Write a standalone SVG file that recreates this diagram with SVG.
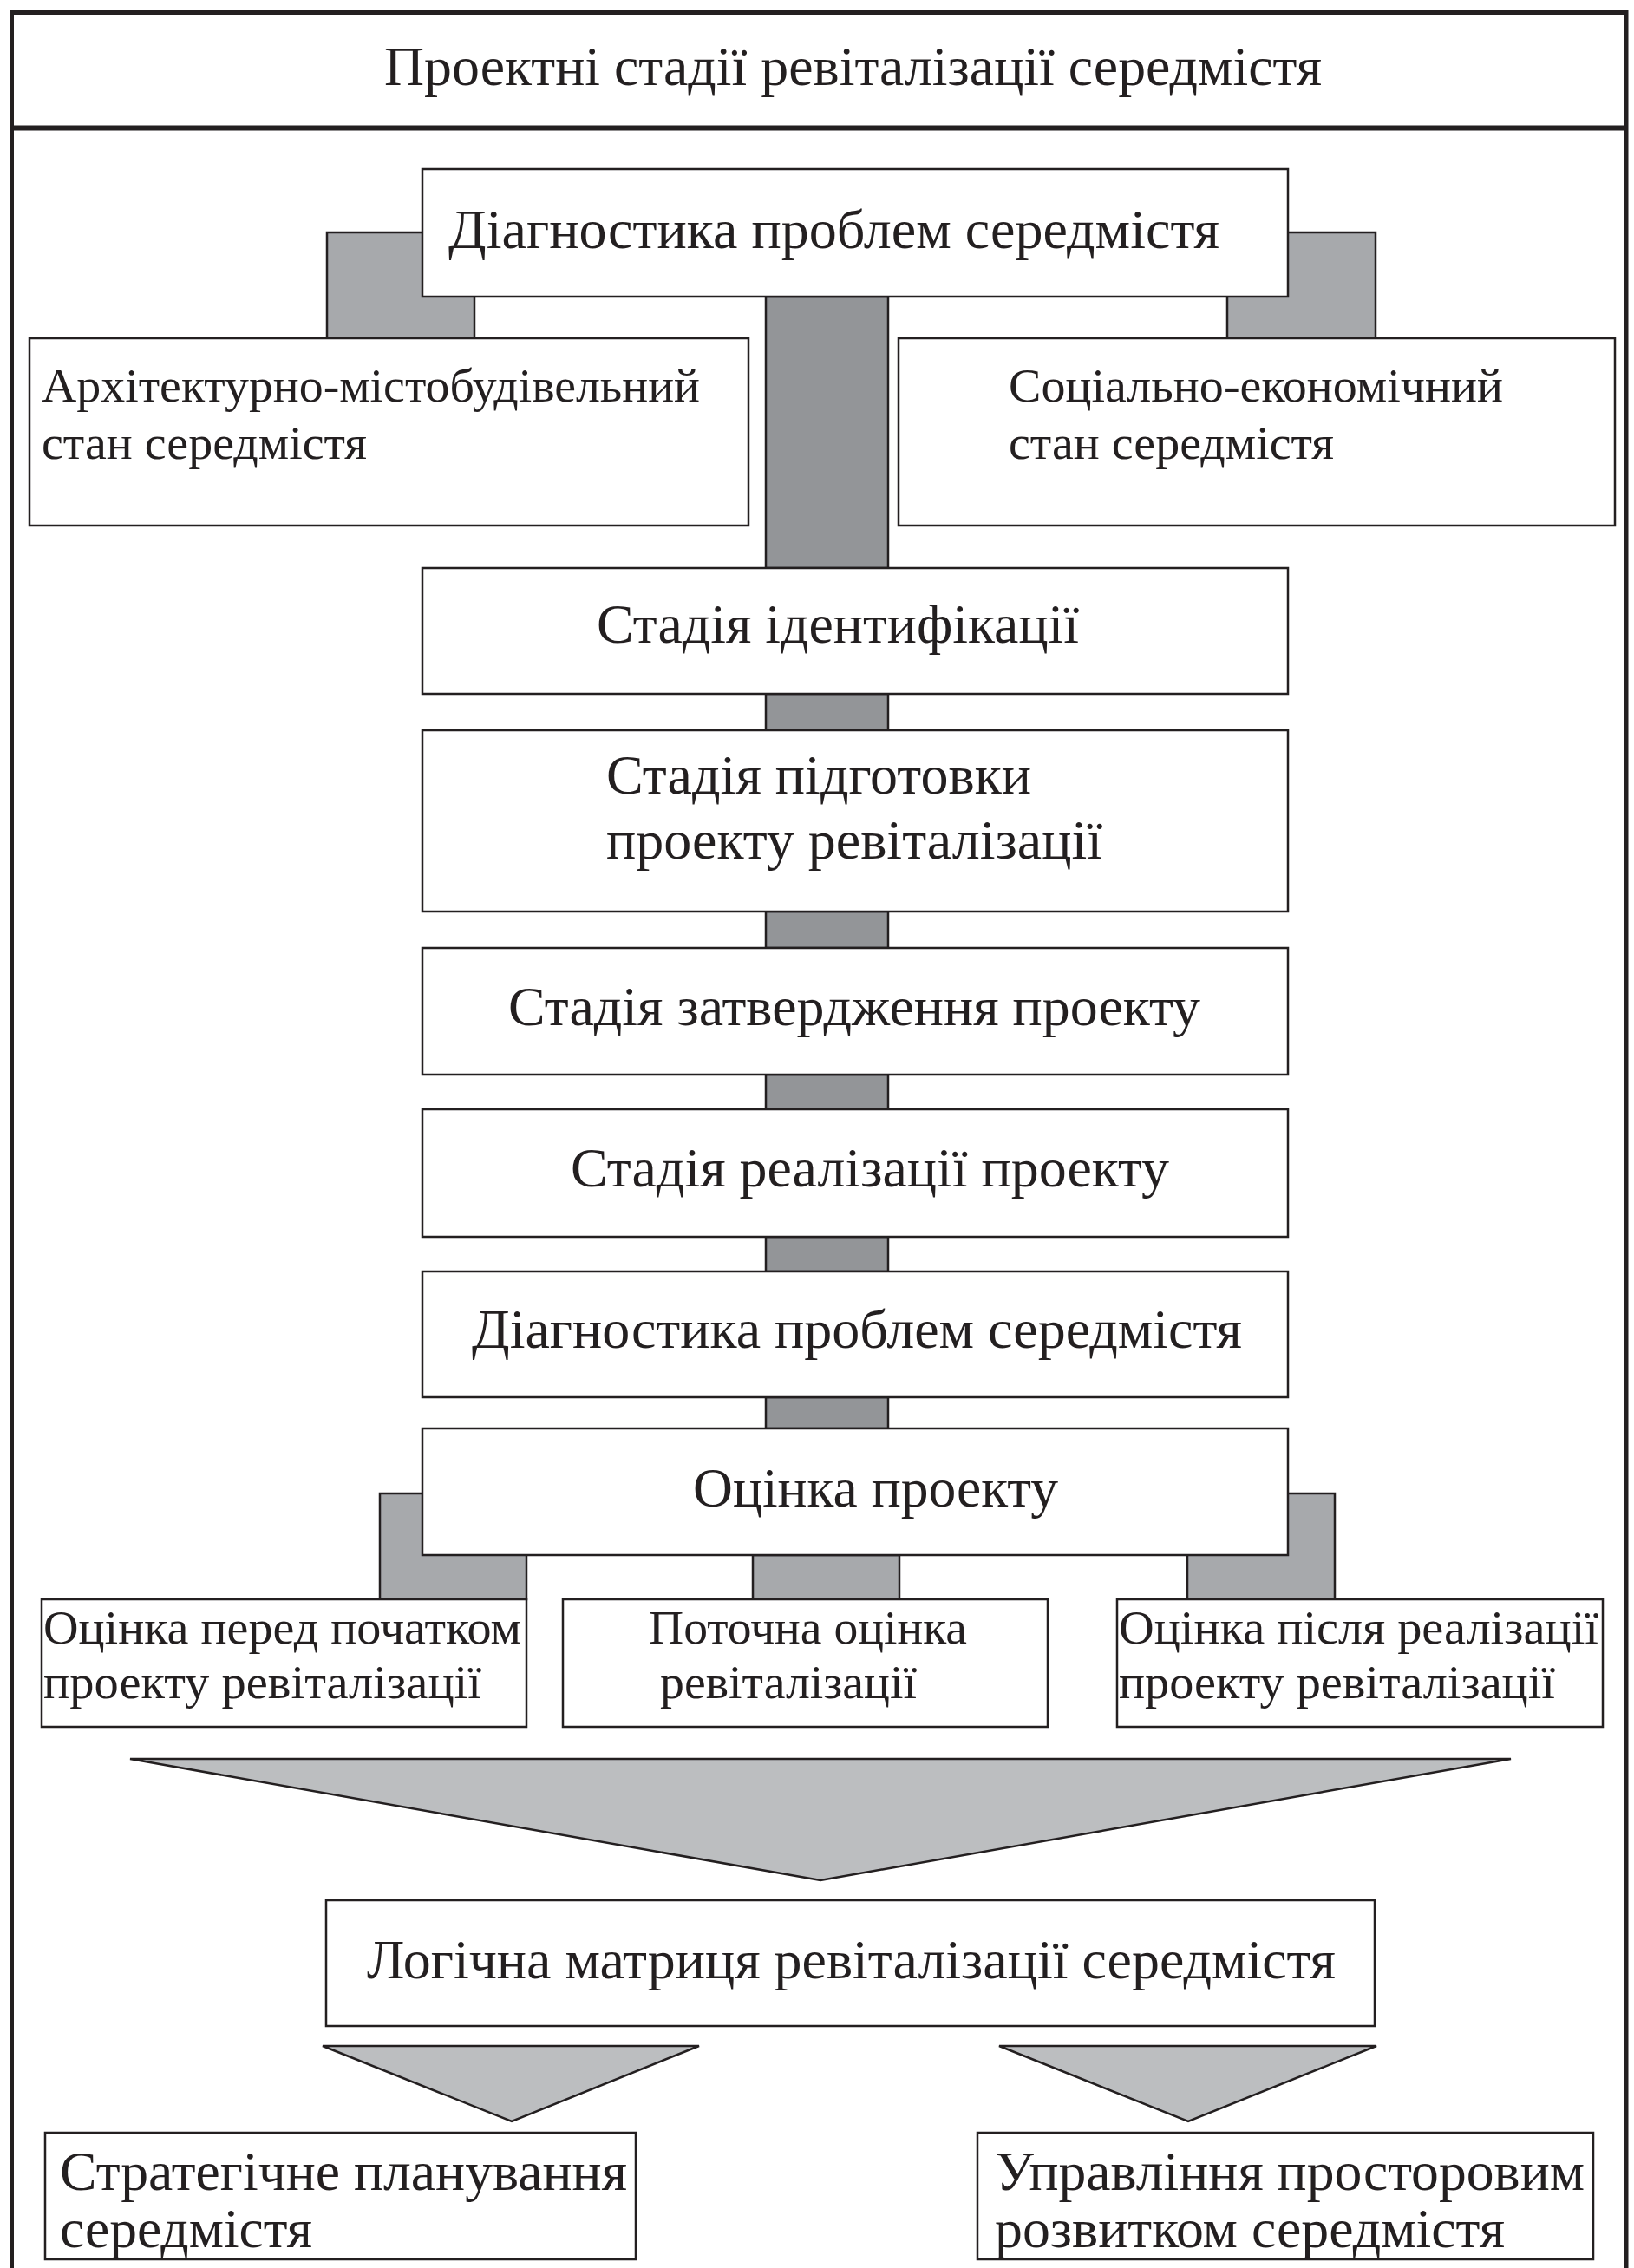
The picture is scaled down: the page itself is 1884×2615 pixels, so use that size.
<svg xmlns="http://www.w3.org/2000/svg" width="1884" height="2615" viewBox="0 0 1884 2615">
<style>
.bg{fill:#ffffff}
.box{fill:#ffffff;stroke:#231f20;stroke-width:2.5}
.con{fill:#939598;stroke:#231f20;stroke-width:2.5}
.con2{fill:#a7a9ac;stroke:#231f20;stroke-width:2.5}
.tri{fill:#bcbec0;stroke:#231f20;stroke-width:2.5;stroke-linejoin:miter}
.frame{fill:none;stroke:#231f20;stroke-width:5}
text{font-family:"Liberation Serif","Times New Roman",serif;fill:#231f20;lengthAdjust:spacingAndGlyphs}
.t64{font-size:64px}
.t55{font-size:55px}
</style>
<rect class="bg" x="0" y="0" width="1884" height="2615"/>
<g id="frame">
<path class="frame" d="M13.5,2615 V14.5 H1875 V2615"/>
<line x1="13.5" y1="147.5" x2="1875" y2="147.5" stroke="#231f20" stroke-width="6"/>
<text class="t64" x="443" y="98" textLength="1081" lengthAdjust="spacingAndGlyphs">Проектні стадії ревіталізації середмістя</text>
</g>
<g id="connectors">
<rect class="con2" x="377" y="268" width="170" height="122"/>
<rect class="con2" x="1415" y="268" width="171" height="122"/>
<rect class="con" x="883" y="342" width="141" height="313"/>
<rect class="con" x="883" y="800" width="141" height="42"/>
<rect class="con" x="883" y="1051" width="141" height="42"/>
<rect class="con" x="883" y="1239" width="141" height="40"/>
<rect class="con" x="883" y="1426" width="141" height="40"/>
<rect class="con" x="883" y="1611" width="141" height="36"/>
<rect class="con2" x="438" y="1722" width="169" height="122"/>
<rect class="con2" x="868" y="1793" width="169" height="51"/>
<rect class="con2" x="1369" y="1722" width="170" height="122"/>
<polygon class="tri" points="150,2028 1742,2028 946,2168"/>
<polygon class="tri" points="372,2359 806,2359 590,2446"/>
<polygon class="tri" points="1152,2359 1587,2359 1370,2446"/>
</g>
<g id="diag1">
<rect class="box" x="487" y="195" width="998" height="147"/>
<text class="t64" x="517" y="286" textLength="889" lengthAdjust="spacingAndGlyphs">Діагностика проблем середмістя</text>
</g>
<g id="arch">
<rect class="box" x="34" y="390" width="829" height="216"/>
<text class="t55" x="48" y="463" textLength="759" lengthAdjust="spacingAndGlyphs">Архітектурно-містобудівельний</text>
<text class="t55" x="48" y="529" textLength="375" lengthAdjust="spacingAndGlyphs">стан середмістя</text>
</g>
<g id="social">
<rect class="box" x="1036" y="390" width="826" height="216"/>
<text class="t55" x="1163" y="463" textLength="570" lengthAdjust="spacingAndGlyphs">Соціально-економічний</text>
<text class="t55" x="1163" y="529" textLength="375" lengthAdjust="spacingAndGlyphs">стан середмістя</text>
</g>
<g id="ident">
<rect class="box" x="487" y="655" width="998" height="145"/>
<text class="t64" x="688" y="741" textLength="556" lengthAdjust="spacingAndGlyphs">Стадія ідентифікації</text>
</g>
<g id="prep">
<rect class="box" x="487" y="842" width="998" height="209"/>
<text class="t64" x="699" y="915" textLength="490" lengthAdjust="spacingAndGlyphs">Стадія підготовки</text>
<text class="t64" x="699" y="990" textLength="572" lengthAdjust="spacingAndGlyphs">проекту ревіталізації</text>
</g>
<g id="approval">
<rect class="box" x="487" y="1093" width="998" height="146"/>
<text class="t64" x="586" y="1182" textLength="798" lengthAdjust="spacingAndGlyphs">Стадія затвердження проекту</text>
</g>
<g id="realization">
<rect class="box" x="487" y="1279" width="998" height="147"/>
<text class="t64" x="658" y="1368" textLength="690" lengthAdjust="spacingAndGlyphs">Стадія реалізації проекту</text>
</g>
<g id="diag2">
<rect class="box" x="487" y="1466" width="998" height="145"/>
<text class="t64" x="544" y="1554" textLength="888" lengthAdjust="spacingAndGlyphs">Діагностика проблем середмістя</text>
</g>
<g id="assess">
<rect class="box" x="487" y="1647" width="998" height="146"/>
<text class="t64" x="799" y="1737" textLength="421" lengthAdjust="spacingAndGlyphs">Оцінка проекту</text>
</g>
<g id="eval-before">
<rect class="box" x="48" y="1844" width="559" height="147"/>
<text class="t55" x="50" y="1895" textLength="551" lengthAdjust="spacingAndGlyphs">Оцінка перед початком</text>
<text class="t55" x="50" y="1958" textLength="505" lengthAdjust="spacingAndGlyphs">проекту ревіталізації</text>
</g>
<g id="eval-current">
<rect class="box" x="649" y="1844" width="559" height="147"/>
<text class="t55" x="748" y="1895" textLength="367" lengthAdjust="spacingAndGlyphs">Поточна оцінка</text>
<text class="t55" x="761" y="1958" textLength="296" lengthAdjust="spacingAndGlyphs">ревіталізації</text>
</g>
<g id="eval-after">
<rect class="box" x="1288" y="1844" width="560" height="147"/>
<text class="t55" x="1290" y="1895" textLength="553" lengthAdjust="spacingAndGlyphs">Оцінка після реалізації</text>
<text class="t55" x="1290" y="1958" textLength="503" lengthAdjust="spacingAndGlyphs">проекту ревіталізації</text>
</g>
<g id="matrix">
<rect class="box" x="376" y="2191" width="1209" height="145"/>
<text class="t64" x="423" y="2281" textLength="1117" lengthAdjust="spacingAndGlyphs">Логічна матриця ревіталізації середмістя</text>
</g>
<g id="strategic">
<rect class="box" x="52" y="2459" width="681" height="146"/>
<text class="t64" x="69" y="2525" textLength="654" lengthAdjust="spacingAndGlyphs">Стратегічне планування</text>
<text class="t64" x="69" y="2591" textLength="291" lengthAdjust="spacingAndGlyphs">середмістя</text>
</g>
<g id="spatial">
<rect class="box" x="1127" y="2459" width="710" height="146"/>
<text class="t64" x="1147" y="2525" textLength="680" lengthAdjust="spacingAndGlyphs">Управління просторовим</text>
<text class="t64" x="1147" y="2591" textLength="588" lengthAdjust="spacingAndGlyphs">розвитком середмістя</text>
</g>
</svg>
